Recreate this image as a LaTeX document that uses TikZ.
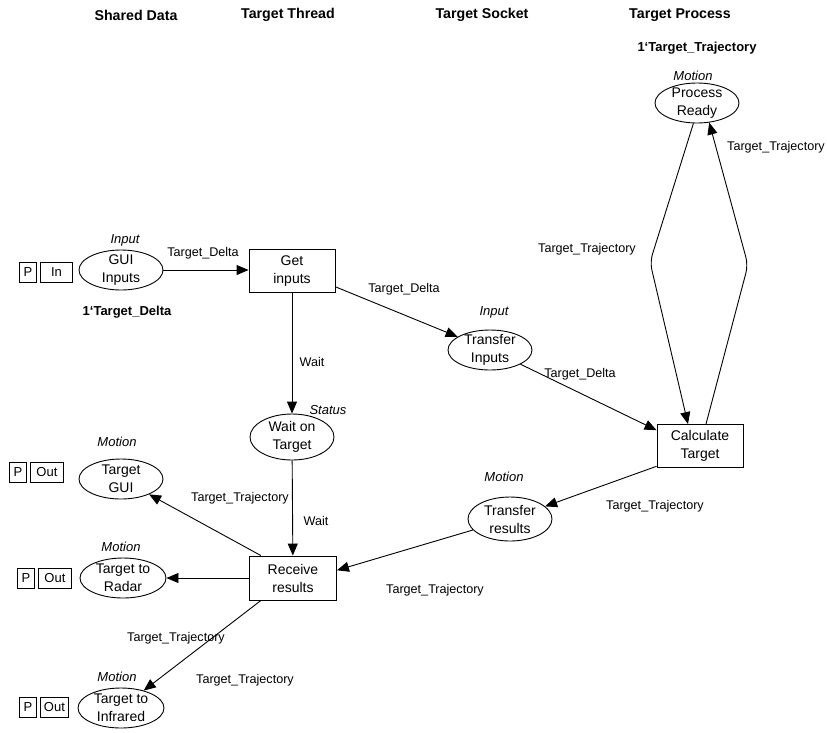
\documentclass[tikz,border=0pt]{standalone}
\usepackage{fontspec}
\setmainfont{Liberation Sans}
\usetikzlibrary{arrows.meta,shapes.geometric}

\newcommand\cpnnode{\fontsize{14}{18}\selectfont}
\newcommand\cpnlbl{\fontsize{12.6}{14}\selectfont}
\newcommand\cpnhead{\fontsize{14.2}{16}\selectfont\bfseries}

\begin{document}
\begin{tikzpicture}[x=1pt,y=-1pt,line width=0.9pt,
  place/.style={ellipse,draw,minimum width=84pt,minimum height=40pt,inner sep=-6pt,align=center,font=\cpnnode},
  trans/.style={rectangle,draw,minimum width=86pt,minimum height=43pt,inner sep=0pt,align=center,font=\cpnnode},
  arc/.style={draw,-{Triangle[length=12pt,width=10pt]}},
  lbl/.style={font=\cpnlbl,inner sep=0pt},
  ctype/.style={font=\fontsize{13}{14}\selectfont\itshape,inner sep=0pt},
  init/.style={font=\fontsize{13}{14}\selectfont\bfseries,inner sep=0pt},
  head/.style={font=\cpnhead,inner sep=0pt},
  port/.style={draw,minimum height=20pt,inner sep=0pt,font=\fontsize{13}{14}\selectfont}]

\useasboundingbox (0,0) rectangle (827,732);

% column headings
\node[head] (h1) at (136,15) {Shared Data};
\node[head] (h2) at (288,15) {Target Thread};
\node[head] (h3) at (482,15) {Target Socket};
\node[head] (h4) at (680,15) {Target Process};

% places
\node[place] (gui)   at (121,270) {GUI\\Inputs};
\node[place] (trin)  at (490,350) {Transfer\\Inputs};
\node[place] (pr)    at (697,103) {Process\\Ready};
\node[place,minimum height=46pt] (wait) at (292,437) {Wait on\\Target};
\node[place,minimum height=44pt] (trres) at (510,519) {Transfer\\results};
\node[place] (tgui)  at (121,479) {Target\\GUI};
\node[place,minimum width=86pt] (radar) at (123,578) {Target to\\Radar};
\node[place,minimum width=86pt] (infra) at (121,708) {Target to\\Infrared};

% transitions
\node[trans] (get)  at (292,271) {Get\\inputs};
\node[trans] (calc) at (700,446) {Calculate\\Target};
\node[trans,minimum width=87pt,minimum height=44pt] (recv) at (293,578) {Receive\\results};

% colour sets
\node[ctype] (c1) at (125,240) {Input};
\node[ctype] (c2) at (494,312) {Input};
\node[ctype] (c3) at (693,76)  {Motion};
\node[ctype] (c4) at (328,410) {Status};
\node[ctype] (c5) at (504,477) {Motion};
\node[ctype] (c6) at (117,442) {Motion};
\node[ctype] (c7) at (121,547) {Motion};
\node[ctype] (c8) at (117,677) {Motion};

% initial markings
\node[init] (m1) at (127,312) {1‘Target\_Delta};
\node[init] (m2) at (697,48)  {1‘Target\_Trajectory};

% port tags
\node[port,minimum width=17pt] (p1) at (28,272) {P};
\node[port,minimum width=32pt,anchor=west] (p1t) at (40,272) {In};
\node[port,minimum width=17pt] (p2) at (18,472) {P};
\node[port,minimum width=33pt,anchor=west] (p2t) at (30,472) {Out};
\node[port,minimum width=17pt] (p3) at (26,578) {P};
\node[port,minimum width=33pt,anchor=west] (p3t) at (38,578) {Out};
\node[port,minimum width=17pt] (p4) at (28,707) {P};
\node[port,minimum width=28pt,anchor=west] (p4t) at (40,707) {Out};

% arcs
\draw[arc] (gui) -- (gui -| get.west);
\draw[arc] (get.-20) -- (trin);
\draw[arc] (trin.-25) -- (calc.160);
\draw[arc] (get) -- (wait);
\draw[arc] (wait) -- (recv);
\draw[arc] (calc.205) -- (trres);
\draw[arc] (trres) -- (recv.10);
\draw[arc] (recv.145) -- (tgui);
\draw[arc] (recv) -- (radar);
\draw[arc] (recv.215) -- (infra);
\draw[arc,rounded corners=8pt] (pr.-100) -- (650,262) -- ([xshift=-12pt]calc.north);
\draw[arc,rounded corners=8pt] ([xshift=6pt]calc.north) -- (748,265) -- (pr.-58);

% arc inscriptions
\node[lbl] (a1)  at (203,253) {Target\_Delta};
\node[lbl] (a2)  at (404,289) {Target\_Delta};
\node[lbl] (a3)  at (580,374) {Target\_Delta};
\node[lbl] (a4)  at (312,362) {Wait};
\node[lbl] (a5)  at (316,521) {Wait};
\node[lbl] (a6)  at (776,147) {Target\_Trajectory};
\node[lbl] (a7)  at (587,249) {Target\_Trajectory};
\node[lbl] (a8)  at (655,506) {Target\_Trajectory};
\node[lbl] (a9)  at (435,590) {Target\_Trajectory};
\node[lbl] (a10) at (240,498) {Target\_Trajectory};
\node[lbl] (a11) at (176,638) {Target\_Trajectory};
\node[lbl] (a12) at (245,680) {Target\_Trajectory};
\end{tikzpicture}
\end{document}
